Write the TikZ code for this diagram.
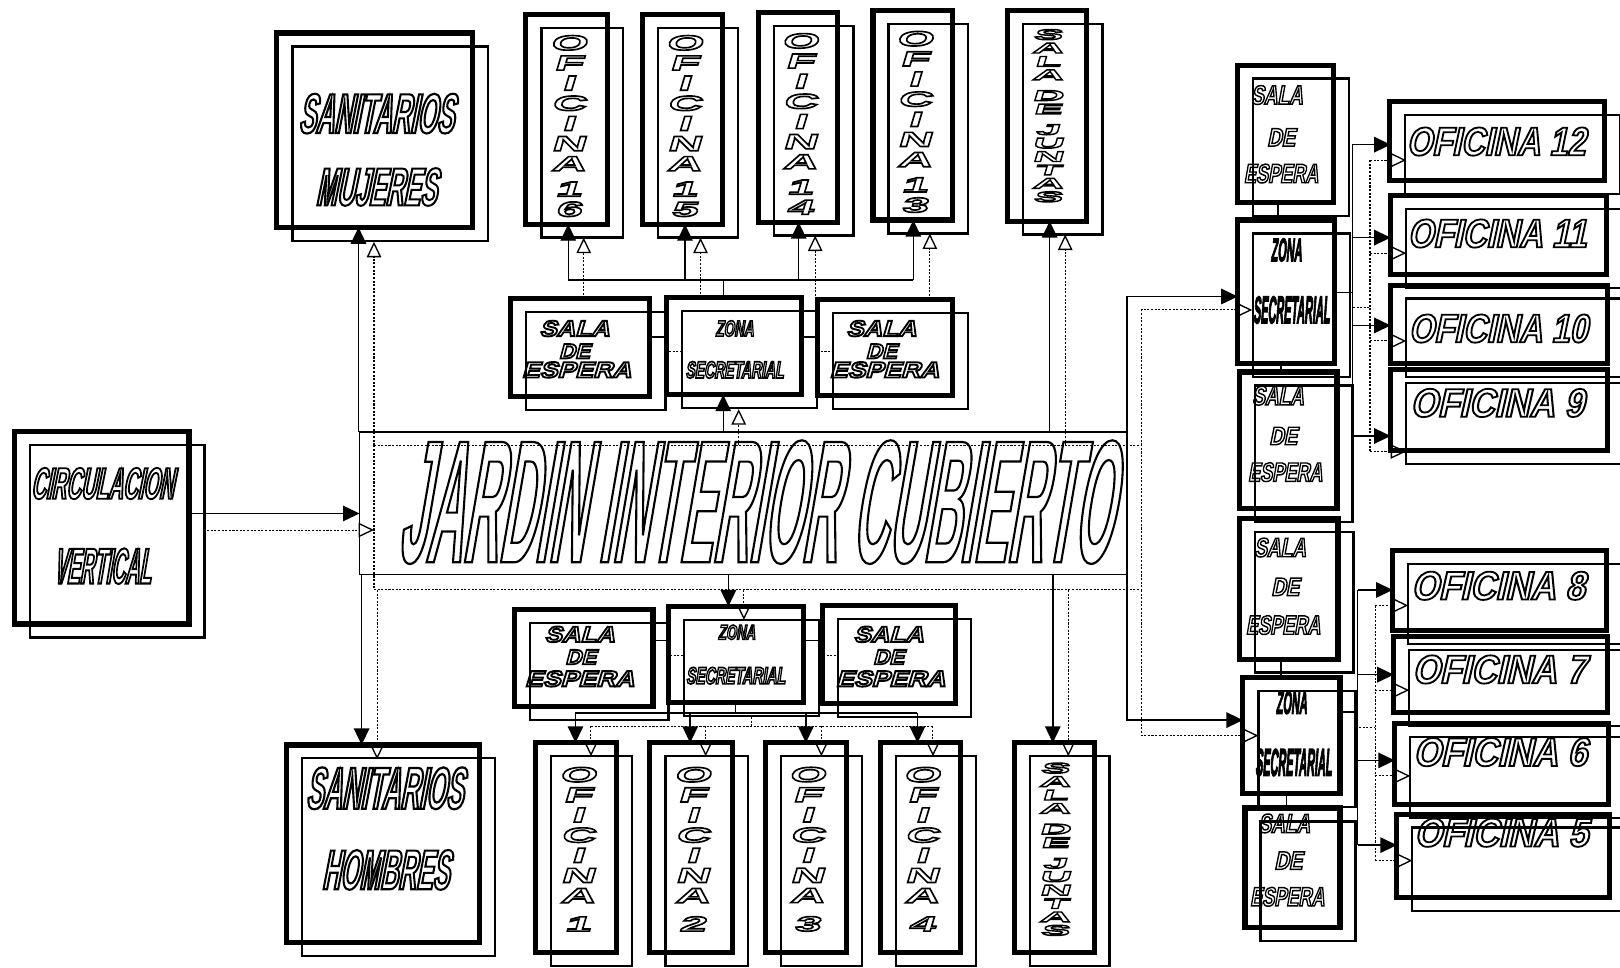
\documentclass[tikz,border=0pt]{standalone}
\usepackage{fontspec}
\usepackage{graphicx}
\usetikzlibrary{arrows.meta,fit}
\newfontfamily\fnA{Liberation Sans}[FakeStretch=0.3,FakeSlant=0.18]
\newfontfamily\fnB{Liberation Sans}[FakeStretch=0.46,FakeSlant=0.2]
\newfontfamily\fnC{Liberation Sans}[FakeStretch=0.78,FakeSlant=0.2]
\newfontfamily\fnD{Liberation Sans}[FakeStretch=1.2,FakeSlant=0.3]
\newfontfamily\fnE{Liberation Sans}[FakeStretch=2.3,FakeSlant=0.3]
\newfontfamily\fnF{Liberation Sans}[FakeStretch=3.0,FakeSlant=0.3]
\tikzset{
  bx/.style={draw, line width=5pt, inner sep=0pt, outer sep=0pt, rectangle},
  shd/.style={draw, line width=2.2pt},
  sol/.style={line width=1.4pt, -{Triangle[length=16pt,width=15pt]}},
  dot/.style={line width=1pt, dash pattern=on 2pt off 1.5pt, -{Triangle[open,length=15pt,width=14pt,line width=1.3pt]}},
  solp/.style={line width=1.4pt},
  dotp/.style={line width=1pt, dash pattern=on 2pt off 1.5pt},
}
\newcommand\room[5]{\draw[shd] (#2+15,#3+13) rectangle (#4+15,#5+13);
  \node[bx,fit={(#2,#3) (#4,#5)}] (#1) {};}
\newcommand\lbl[8]{\node[inner sep=0pt,outer sep=0pt] (#1) at (#2,#3)
  {\resizebox{#4pt}{#5pt}{\fontsize{20}{20}#6\bfseries\special{pdf:literal direct #7}#8\special{pdf:literal direct 0 Tr}}};}
\newcommand\vst[4]{\node[inner sep=0pt, align=center, font=\fontsize{20}{19.5}\fnE\bfseries] (#1) at (#2,#3)
  {\special{pdf:literal direct 1 Tr 1.6 w}#4\special{pdf:literal direct 0 Tr}};}
\newcommand\vsj[3]{\node[inner sep=0pt, align=center, font=\fontsize{14}{13}\fnF\bfseries] (#1) at (#2,#3)
  {\special{pdf:literal direct 1 Tr 1.4 w}S\\A\\L\\A\\[7pt]D\\E\\[7pt]J\\U\\N\\T\\A\\S\special{pdf:literal direct 0 Tr}};}
\begin{document}
\begin{tikzpicture}[x=1pt,y=-1pt]
\useasboundingbox (0,0) rectangle (1568,936);
\fill[white] (0,0) rectangle (1568,936);
\clip (0,0) rectangle (1568,936);
% rooms
\room{circ}{14}{418}{183}{604}
\room{muj}{268}{32}{457}{220}
\room{hom}{277}{721}{464}{912}
\room{ofA}{509}{14}{588}{217}
\room{ofB}{622}{14}{699}{217}
\room{ofC}{734}{12}{811}{215}
\room{ofD}{845}{10}{922}{213}
\room{sjA}{975}{10}{1052}{214}
\room{seA}{494}{289}{629}{384}
\room{zsA}{645}{288}{776}{382}
\room{seB}{791}{290}{922}{383}
\room{seC}{498}{590}{632}{684}
\room{zsB}{647}{587}{778}{680}
\room{seD}{796}{586}{925}{681}
\room{of1}{518}{719}{597}{922}
\room{of2}{629}{719}{709}{922}
\room{of3}{741}{719}{819}{922}
\room{of4}{852}{719}{930}{922}
\room{sjB}{982}{719}{1059}{922}
\room{seR1}{1198}{63}{1291}{196}
\room{zsR1}{1198}{213}{1292}{352}
\room{seR2}{1200}{360}{1294}{492}
\room{seR3}{1200}{502}{1295}{638}
\room{zsR2}{1203}{656}{1297}{768}
\room{seR4}{1205}{782}{1297}{898}
\room{of12}{1345}{98}{1553}{175}
\room{of11}{1346}{189}{1555}{266}
\room{of10}{1346}{276}{1556}{352}
\room{of9}{1346}{358}{1556}{436}
\room{of8}{1348}{533}{1555}{610}
\room{of7}{1349}{616}{1556}{690}
\room{of6}{1350}{700}{1557}{779}
\room{of5}{1352}{788}{1558}{869}
% jardin
\draw[dotp] (362,431) rectangle (1105,571);
\node[draw,line width=1.4pt,inner sep=0pt,outer sep=0pt,fit={(348,418) (1091,556)}] (jar) {};
% labels
\lbl{tC1}{99}{468}{138}{30}{\fnB}{1 Tr 0.8 w}{CIRCULACION}
\lbl{tC2}{99}{548}{94}{34}{\fnB}{1 Tr 0.8 w}{VERTICAL}
\lbl{tM1}{364}{110}{150}{38}{\fnB}{1 Tr 0.75 w}{SANITARIOS}
\lbl{tM2}{364}{181}{117}{36}{\fnB}{1 Tr 0.75 w}{MUJERES}
\lbl{tH1}{372}{763}{152}{40}{\fnB}{1 Tr 0.75 w}{SANITARIOS}
\lbl{tH2}{373}{842}{123}{38}{\fnB}{1 Tr 0.75 w}{HOMBRES}
\lbl{tJ}{730}{486}{690}{118}{\fnA}{1 Tr 0.25 w}{JARDIN INTERIOR CUBIERTO}
% middle salas / zonas
\lbl{sA1}{556}{318}{68}{15}{\fnD}{1 Tr 1.7 w}{SALA}
\lbl{sA2}{556}{340}{30}{14}{\fnD}{1 Tr 1.7 w}{DE}
\lbl{sA3}{558}{358}{106}{15}{\fnD}{1 Tr 1.7 w}{ESPERA}
\lbl{sB1}{853}{318}{68}{15}{\fnD}{1 Tr 1.7 w}{SALA}
\lbl{sB2}{853}{340}{30}{14}{\fnD}{1 Tr 1.7 w}{DE}
\lbl{sB3}{856}{358}{106}{15}{\fnD}{1 Tr 1.7 w}{ESPERA}
\lbl{sC1}{561}{614}{68}{15}{\fnD}{1 Tr 1.7 w}{SALA}
\lbl{sC2}{562}{636}{30}{14}{\fnD}{1 Tr 1.7 w}{DE}
\lbl{sC3}{561}{657}{106}{15}{\fnD}{1 Tr 1.7 w}{ESPERA}
\lbl{sD1}{860}{614}{68}{15}{\fnD}{1 Tr 1.7 w}{SALA}
\lbl{sD2}{860}{636}{30}{14}{\fnD}{1 Tr 1.7 w}{DE}
\lbl{sD3}{862}{657}{106}{15}{\fnD}{1 Tr 1.7 w}{ESPERA}
\lbl{zA1}{711}{318}{37}{15}{\fnC}{1 Tr 1.4 w}{ZONA}
\lbl{zA2}{711}{358}{95}{16}{\fnC}{1 Tr 1.4 w}{SECRETARIAL}
\lbl{zB1}{713}{612}{36}{14}{\fnC}{1 Tr 1.4 w}{ZONA}
\lbl{zB2}{712}{654}{96}{16}{\fnC}{1 Tr 1.4 w}{SECRETARIAL}
% right salas / zonas
\lbl{rA1}{1236}{92}{50}{18}{\fnC}{1 Tr 1.1 w}{SALA}
\lbl{rA2}{1240}{133}{27}{17}{\fnC}{1 Tr 1.1 w}{DE}
\lbl{rA3}{1240}{168}{72}{18}{\fnC}{1 Tr 1.1 w}{ESPERA}
\lbl{rB1}{1237}{383}{50}{18}{\fnC}{1 Tr 1.1 w}{SALA}
\lbl{rB2}{1242}{422}{27}{17}{\fnC}{1 Tr 1.1 w}{DE}
\lbl{rB3}{1244}{457}{72}{18}{\fnC}{1 Tr 1.1 w}{ESPERA}
\lbl{rC1}{1239}{530}{50}{18}{\fnC}{1 Tr 1.1 w}{SALA}
\lbl{rC2}{1244}{568}{27}{17}{\fnC}{1 Tr 1.1 w}{DE}
\lbl{rC3}{1242}{605}{72}{18}{\fnC}{1 Tr 1.1 w}{ESPERA}
\lbl{rD1}{1243}{797}{50}{18}{\fnC}{1 Tr 1.1 w}{SALA}
\lbl{rD2}{1247}{833}{27}{17}{\fnC}{1 Tr 1.1 w}{DE}
\lbl{rD3}{1246}{868}{72}{18}{\fnC}{1 Tr 1.1 w}{ESPERA}
\lbl{rZ1}{1245}{242}{30}{22}{\fnC}{2 Tr 0.8 w}{ZONA}
\lbl{rZ2}{1250}{300}{74}{26}{\fnC}{2 Tr 0.8 w}{SECRETARIAL}
\lbl{rZ3}{1250}{680}{30}{22}{\fnC}{2 Tr 0.8 w}{ZONA}
\lbl{rZ4}{1252}{738}{74}{26}{\fnC}{2 Tr 0.8 w}{SECRETARIAL}
% right offices
\lbl{o12}{1448}{137}{173}{27}{\fnC}{1 Tr 0.9 w}{OFICINA 12}
\lbl{o11}{1449}{226}{173}{27}{\fnC}{1 Tr 0.9 w}{OFICINA 11}
\lbl{o10}{1450}{318}{173}{27}{\fnC}{1 Tr 0.9 w}{OFICINA 10}
\lbl{o9}{1449}{390}{168}{27}{\fnC}{1 Tr 0.9 w}{OFICINA 9}
\lbl{o8}{1450}{567}{168}{27}{\fnC}{1 Tr 0.9 w}{OFICINA 8}
\lbl{o7}{1451}{648}{168}{27}{\fnC}{1 Tr 0.9 w}{OFICINA 7}
\lbl{o6}{1452}{728}{168}{27}{\fnC}{1 Tr 0.9 w}{OFICINA 6}
\lbl{o5}{1453}{806}{168}{27}{\fnC}{1 Tr 0.9 w}{OFICINA 5}
% vertical labels
\vst{vA}{550}{122}{O\\F\\I\\C\\I\\N\\A\\[5pt]1\\6}
\vst{vB}{662}{122}{O\\F\\I\\C\\I\\N\\A\\[5pt]1\\5}
\vst{vC}{774}{120}{O\\F\\I\\C\\I\\N\\A\\[5pt]1\\4}
\vst{vD}{885}{118}{O\\F\\I\\C\\I\\N\\A\\[5pt]1\\3}
\vst{v1}{559}{822}{O\\F\\I\\C\\I\\N\\A\\[8pt]1}
\vst{v2}{670}{822}{O\\F\\I\\C\\I\\N\\A\\[8pt]2}
\vst{v3}{781}{822}{O\\F\\I\\C\\I\\N\\A\\[8pt]3}
\vst{v4}{892}{822}{O\\F\\I\\C\\I\\N\\A\\[8pt]4}
\vsj{jA}{1014}{112}
\vsj{jB}{1021}{822}
% connectors: circulacion -> jardin
\draw[sol] (183,497) -- (348,497);
\draw[dot] (197,513) -- (362,513);
% jardin -> sanitarios
\draw[sol] (347,418) -- (347,220);
\draw[dot] (362,431) -- (362,234);
\draw[sol] (350,556) -- (350,721);
\draw[dot] (365,571) -- (365,735);
% jardin -> zona secretarial (upper)
\draw[sol] (700,418) -- (700,382);
\draw[dot] (715,431) -- (715,396);
\draw[solp] (700,288) -- (700,271);
\draw[solp] (550,271) -- (884,271);
\foreach \x/\y in {550/217,663/217,773/215,884/213} \draw[sol] (\x,271) -- (\x,\y);
\foreach \x/\y/\z in {565/289/230,678/288/230,789/290/228,900/290/226} \draw[dot] (\x,\y) -- (\x,\z);
\draw[solp] (629,326) -- (645,326);
\draw[dotp] (644,340) -- (660,340);
\draw[solp] (776,326) -- (791,326);
\draw[dotp] (791,340) -- (806,340);
% jardin -> zona secretarial (lower)
\draw[sol] (705,556) -- (705,587);
\draw[dot] (720,571) -- (720,600);
\draw[solp] (712,680) -- (712,690);
\draw[solp] (557,690) -- (888,690);
\foreach \x in {557,668,780,888} \draw[sol] (\x,690) -- (\x,719);
\draw[dotp] (727,694) -- (727,703);
\draw[dotp] (572,703) -- (903,703);
\foreach \x in {572,683,795,903} \draw[dot] (\x,703) -- (\x,732);
\draw[solp] (632,620) -- (647,620);
\draw[dotp] (645,634) -- (661,634);
\draw[solp] (778,620) -- (796,620);
\draw[dotp] (793,634) -- (811,634);
% jardin -> salas de juntas
\draw[sol] (1016,418) -- (1016,214);
\draw[dot] (1031,431) -- (1031,227);
\draw[sol] (1019,556) -- (1019,719);
\draw[dot] (1034,571) -- (1034,732);
% jardin -> right zones
\draw[sol] (1091,418) |- (1198,287);
\draw[dot] (1105,431) |- (1212,300);
\draw[sol] (1091,556) |- (1203,697);
\draw[dot] (1105,571) |- (1218,712);
% right top offices
\draw[solp] (1292,283) -- (1309,283);
\draw[solp] (1309,140) -- (1309,422);
\foreach \y in {140,230,315,422} \draw[sol] (1309,\y) -- (1346,\y);
\draw[dotp] (1306,298) -- (1326,298);
\draw[dotp] (1326,155) -- (1326,437);
\foreach \y in {155,245,330,437} \draw[dot] (1326,\y) -- (1361,\y);
% right bottom offices
\draw[solp] (1297,689) -- (1314,689);
\draw[solp] (1314,571) -- (1314,818);
\foreach \y/\x in {571/1348,653/1349,736/1350,818/1352} \draw[sol] (1314,\y) -- (\x,\y);
\draw[dotp] (1312,704) -- (1331,704);
\draw[dotp] (1331,586) -- (1331,833);
\foreach \y/\x in {586/1363,668/1364,751/1365,833/1367} \draw[dot] (1331,\y) -- (\x,\y);
% right vertical links
\draw[solp] (1237,196) -- (1237,213);
\draw[solp] (1240,352) -- (1240,360);
\draw[solp] (1240,638) -- (1240,656);
\draw[solp] (1245,768) -- (1245,782);
\end{tikzpicture}
\end{document}
